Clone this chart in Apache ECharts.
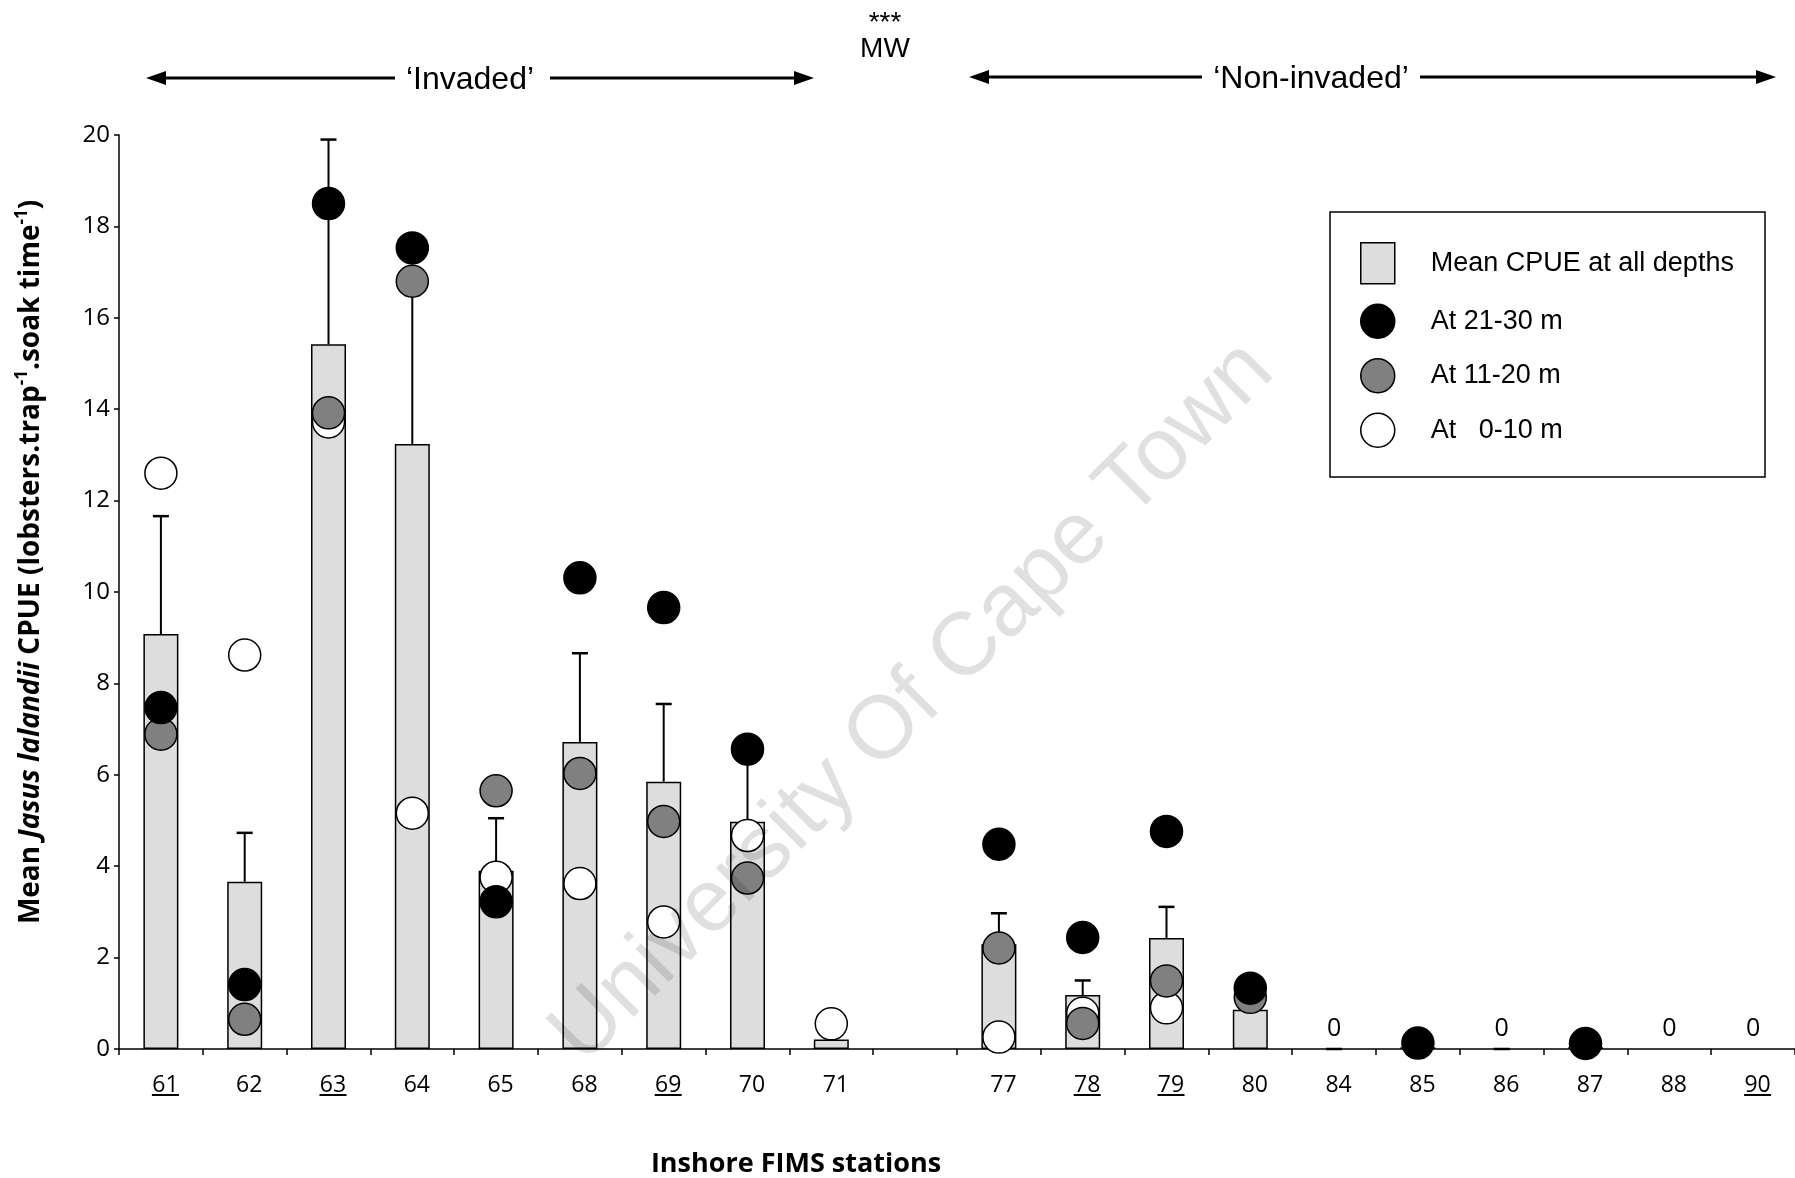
<!DOCTYPE html>
<html>
<head>
<meta charset="utf-8">
<script src="https://cdn.jsdelivr.net/npm/echarts@6/dist/echarts.min.js"></script>
<style>
  html, body { margin: 0; padding: 0; background: #ffffff; }
  #chart { width: 1795px; height: 1178px; }
</style>
</head>
<body>
<div id="chart"></div>
<script>
// Inshore FIMS stations (blank slot separates the two zones)
const stations = ['61', '62', '63', '64', '65', '68', '69', '70', '71', '', '77', '78', '79', '80', '84', '85', '86', '87', '88', '90'];
const underlinedStations = ['61', '63', '69', '78', '79', '90'];

// Mean CPUE over all depths and the top of its error bar
const meanCpue  = [9.08, 3.66, 15.42, 13.24, 3.90, 6.72, 5.85, 4.97, 0.21, null, 2.29, 1.18, 2.43, 0.86, 0, 0.04, 0, 0.04, 0, 0];
const meanUpper = [11.66, 4.73, 19.90, 16.50, 5.05, 8.66, 7.55, 6.30, null, null, 2.97, 1.50, 3.11, 1.10, 0, null, 0, null, null, null];

// CPUE per depth band
const cpue21to30 = [7.47, 1.41, 18.50, 17.53, 3.22, 10.31, 9.66, 6.56, null, null, 4.48, 2.44, 4.76, 1.33, null, 0.13, null, 0.12, null, null];
const cpue11to20 = [6.89, 0.65, 13.92, 16.80, 5.65, 6.03, 4.98, 3.74, null, null, 2.21, 0.56, 1.49, 1.13, null, null, null, null, null, null];
const cpue0to10  = [12.60, 8.62, 13.72, 5.16, 3.76, 3.62, 2.78, 4.67, 0.55, null, 0.26, 0.78, 0.90, null, null, null, null, null, null, null];

// Value axis range
const yMin = 0, yMax = 20, yStep = 2;

const seriesNames = ['Mean CPUE at all depths', 'At 21-30 m', 'At 11-20 m', 'At   0-10 m'];

const FONT_NUM = "'Open Sans', 'Noto Sans', sans-serif";
const FONT_ARIAL = "'Liberation Sans', Arial, sans-serif";

const barData = meanCpue.map(function (v) {
  if (v === null) return '-';
  if (v === 0) {
    return { value: 0, itemStyle: { borderWidth: 0 }, label: { show: true } };
  }
  return v;
});

const errorData = [];
meanUpper.forEach(function (u, i) {
  if (u !== null && meanCpue[i] !== null) errorData.push([i, meanCpue[i], u]);
});

function dots(arr) { return arr.map(function (v) { return v === null ? '-' : v; }); }

const chart = echarts.init(document.getElementById('chart'), null, { renderer: 'canvas' });

const option = {
  animation: false,
  backgroundColor: '#ffffff',
  grid: { left: 119, top: 135, width: 1679, height: 914, containLabel: false },
  xAxis: {
    type: 'category',
    data: stations,
    boundaryGap: true,
    axisLine: { show: true, lineStyle: { color: '#000', width: 1.5 } },
    axisTick: { show: true, interval: 0, length: 6, lineStyle: { color: '#000', width: 1.5 } },
    splitLine: { show: false },
    axisLabel: {
      interval: 0,
      margin: 27,
      padding: [0, 0, 0, 9],
      formatter: function (value) {
        if (!value) return '';
        const mark = underlinedStations.indexOf(value) >= 0 ? 'u' : 'v';
        return '{n|' + value + '}\n{' + mark + '| }';
      },
      rich: {
        n: { fontFamily: FONT_NUM, fontSize: 23, color: '#000', lineHeight: 18 },
        u: { width: 27, height: 2, lineHeight: 2, backgroundColor: '#000', fontSize: 2 },
        v: { width: 27, height: 2, lineHeight: 2, fontSize: 2 }
      }
    }
  },
  yAxis: {
    type: 'value',
    min: yMin, max: yMax, interval: yStep,
    axisLine: { show: true, lineStyle: { color: '#000', width: 1.5 } },
    axisTick: { show: true, inside: false, length: 5, lineStyle: { color: '#000', width: 1.5 } },
    splitLine: { show: false },
    axisLabel: { fontFamily: FONT_NUM, fontSize: 24, color: '#000', margin: 9 }
  },
  legend: {
    orient: 'vertical',
    left: 1360, top: 242,
    padding: 0,
    itemWidth: 34, itemHeight: 41, itemGap: 19,
    selectedMode: false,
    textStyle: { fontFamily: FONT_ARIAL, fontSize: 27, color: '#000', padding: [0, 0, 0, 31] },
    data: [
      { name: seriesNames[0], icon: 'rect', itemStyle: { color: '#dddddd', borderColor: '#000', borderWidth: 1.5 } },
      { name: seriesNames[1], icon: 'circle', itemStyle: { color: '#000000', borderColor: '#000', borderWidth: 1.5 } },
      { name: seriesNames[2], icon: 'circle', itemStyle: { color: '#808080', borderColor: '#000', borderWidth: 1.5 } },
      { name: seriesNames[3], icon: 'circle', itemStyle: { color: '#ffffff', borderColor: '#000', borderWidth: 1.5 } }
    ]
  },
  series: [
    {
      name: seriesNames[0],
      type: 'bar',
      data: barData,
      barWidth: 35,
      itemStyle: { color: '#dddddd', borderColor: '#000', borderWidth: 1.5 },
      label: {
        show: false,
        position: 'top',
        distance: 8,
        fontFamily: FONT_NUM, fontSize: 25, color: '#000',
        formatter: function (p) { return String(p.value); }
      },
      z: 2
    },
    {
      name: 'error',
      type: 'custom',
      data: errorData,
      encode: { x: 0, y: [1, 2] },
      renderItem: function (params, api) {
        const x = api.value(0);
        const lo = api.coord([x, api.value(1)]);
        const hi = api.coord([x, api.value(2)]);
        const hw = 8;
        return {
          type: 'group',
          children: [
            { type: 'line', shape: { x1: lo[0], y1: lo[1], x2: hi[0], y2: hi[1] }, style: { stroke: '#000', lineWidth: 2 } },
            { type: 'line', shape: { x1: hi[0] - hw, y1: hi[1], x2: hi[0] + hw, y2: hi[1] }, style: { stroke: '#000', lineWidth: 2.5 } }
          ]
        };
      },
      z: 3
    },
    {
      name: seriesNames[3],
      type: 'scatter',
      data: dots(cpue0to10),
      symbol: 'circle', symbolSize: 32,
      itemStyle: { color: '#ffffff', borderColor: '#000', borderWidth: 1.5, opacity: 1 },
      z: 4
    },
    {
      name: seriesNames[2],
      type: 'scatter',
      data: dots(cpue11to20),
      symbol: 'circle', symbolSize: 32,
      itemStyle: { color: '#808080', borderColor: '#000', borderWidth: 1.5, opacity: 1 },
      z: 5
    },
    {
      name: seriesNames[1],
      type: 'scatter',
      data: dots(cpue21to30),
      symbol: 'circle', symbolSize: 32,
      itemStyle: { color: '#000000', borderColor: '#000', borderWidth: 1.5, opacity: 1 },
      z: 6
    }
  ],
  graphic: [
    // y-axis title
    {
      type: 'text', x: 31, y: 562, rotation: Math.PI / 2,
      style: {
        text: '{b|Mean }{i|Jasus lalandii}{b| CPUE (lobsters.trap}{s|-1}{b|.soak time}{s|-1}{b|)}',
        align: 'center', verticalAlign: 'middle',
        rich: {
          b: { fontFamily: FONT_NUM, fontWeight: 'bold', fontSize: 28, lineHeight: 34, fill: '#000' },
          i: { fontFamily: FONT_NUM, fontWeight: 'bold', fontStyle: 'italic', fontSize: 28, lineHeight: 34, fill: '#000' },
          s: { fontFamily: FONT_NUM, fontWeight: 'bold', fontSize: 17, lineHeight: 17, verticalAlign: 'top', fill: '#000' }
        }
      }
    },
    // x-axis title
    {
      type: 'text', x: 796, y: 1164,
      style: { text: 'Inshore FIMS stations', fontFamily: FONT_NUM, fontWeight: 'bold', fontSize: 27, fill: '#000', align: 'center', verticalAlign: 'middle' }
    },
    // significance note
    {
      type: 'text', x: 885, y: 23,
      style: { text: '***', fontFamily: FONT_ARIAL, fontSize: 28, fill: '#000', align: 'center', verticalAlign: 'middle' }
    },
    {
      type: 'text', x: 885, y: 49,
      style: { text: 'MW', fontFamily: FONT_ARIAL, fontSize: 28, fill: '#000', align: 'center', verticalAlign: 'middle' }
    },
    // 'Invaded' span arrow
    { type: 'line', shape: { x1: 160, y1: 78, x2: 395, y2: 78 }, style: { stroke: '#000', lineWidth: 3 } },
    { type: 'polygon', shape: { points: [[146, 78], [166, 71], [166, 85]] }, style: { fill: '#000' } },
    { type: 'line', shape: { x1: 550, y1: 78, x2: 800, y2: 78 }, style: { stroke: '#000', lineWidth: 3 } },
    { type: 'polygon', shape: { points: [[814, 78], [794, 71], [794, 85]] }, style: { fill: '#000' } },
    {
      type: 'text', x: 470, y: 80,
      style: { text: '\u2018Invaded\u2019', fontFamily: FONT_ARIAL, fontSize: 32, fill: '#000', align: 'center', verticalAlign: 'middle' }
    },
    // 'Non-invaded' span arrow
    { type: 'line', shape: { x1: 983, y1: 77, x2: 1202, y2: 77 }, style: { stroke: '#000', lineWidth: 3 } },
    { type: 'polygon', shape: { points: [[969, 77], [989, 70], [989, 84]] }, style: { fill: '#000' } },
    { type: 'line', shape: { x1: 1420, y1: 77, x2: 1762, y2: 77 }, style: { stroke: '#000', lineWidth: 3 } },
    { type: 'polygon', shape: { points: [[1776, 77], [1756, 70], [1756, 84]] }, style: { fill: '#000' } },
    {
      type: 'text', x: 1311, y: 79,
      style: { text: '\u2018Non-invaded\u2019', fontFamily: FONT_ARIAL, fontSize: 32, fill: '#000', align: 'center', verticalAlign: 'middle' }
    },
    // legend frame
    {
      type: 'rect', shape: { x: 1330, y: 212, width: 435, height: 265 },
      style: { fill: 'none', stroke: '#000', lineWidth: 1.5 }
    },
    // watermark
    {
      type: 'text', x: 913, y: 703, rotation: Math.PI / 4, z: 100,
      style: { text: 'University Of Cape Town', fontFamily: FONT_ARIAL, fontSize: 89, fill: 'rgba(0,0,0,0.12)', align: 'center', verticalAlign: 'middle' }
    }
  ]
};

chart.setOption(option);
</script>
</body>
</html>
